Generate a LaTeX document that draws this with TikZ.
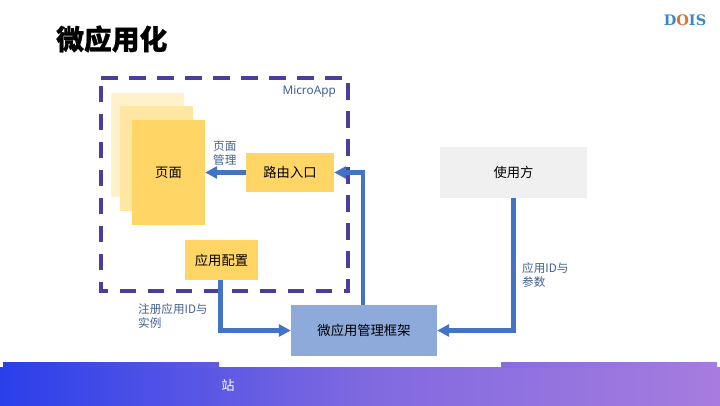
\documentclass[tikz,border=0pt]{standalone}
\usepackage{fontspec}
\setmainfont[BoldFeatures={FakeBold=0.6}]{Noto Sans CJK SC}
\newfontfamily\latinf{Noto Sans}
\newfontfamily\logof{DejaVu Serif}
\usetikzlibrary{arrows.meta}
\definecolor{fblue}{HTML}{2A3FEA}
\definecolor{fmid}{HTML}{7F69E0}
\definecolor{fpurple}{HTML}{A67CDF}
\definecolor{gold}{HTML}{FFD666}
\definecolor{arrowblue}{HTML}{4472C4}
\definecolor{framep}{HTML}{4F3D9E}
\definecolor{mgr}{HTML}{8EAADB}
\definecolor{labelc}{HTML}{44618F}
\definecolor{logoblue}{HTML}{3E86C6}
\definecolor{logoor}{HTML}{D9703A}
\tikzset{
  box/.style={draw=none,minimum width=#1,inner sep=0pt,font=\fontsize{13.3pt}{15pt}\selectfont,text=black},
  conn/.style={draw=arrowblue,line width=4.4pt,-{Triangle[length=12pt,width=12pt]},line join=miter},
  lab/.style={font=\fontsize{11.6pt}{14pt}\selectfont,text=labelc,align=left,inner sep=0pt},
}
\begin{document}
\begin{tikzpicture}[x=1pt,y=-1pt]
\useasboundingbox (0,0) rectangle (720,405);
\fill[white] (0,0) rectangle (720,405);
% footer
\fill[left color=fblue,right color=fmid] (0,367) rectangle (360,405);
\fill[left color=fmid,right color=fpurple] (360,367) rectangle (720,405);
\fill[left color=fblue,right color=fmid!65!fblue] (3,362) rectangle (219,367);
\fill[left color=fmid!80!fpurple,right color=fpurple] (501,362) rectangle (717,367);
\node[text=white,font=\fontsize{13.3pt}{15pt}\selectfont,inner sep=0pt] (zhan) at (228,385) {站};
% title
\node[anchor=west,inner sep=0pt,font=\fontsize{27.8pt}{30pt}\selectfont\bfseries] (title) at (56,39) {微应用化};
% logo
\node[anchor=center,inner sep=0pt,font=\logof\fontsize{14.5pt}{16pt}\selectfont\bfseries,text=logoblue] (logo) at (685,20.5) {D\textcolor{logoor}{O}IS};
% frame
\draw[framep,line width=4pt,dash pattern=on 16.5pt off 11.5pt] (101,78) -- (348,78) -- (348,291) -- (101,291) -- cycle;
\node[lab,anchor=east,font=\latinf\fontsize{11.8pt}{14pt}\selectfont] (ma) at (336,92) {MicroApp};
% pages
\fill[gold!35!white] (111,93) rectangle (184,197);
\fill[gold!60!white] (120,106) rectangle (193,211);
\node[box=73pt,minimum height=105pt,fill=gold] (page) at (168.5,172.5) {页面};
\node[box=88pt,minimum height=39pt,fill=gold] (route) at (290,172.5) {路由入口};
\node[box=73pt,minimum height=40pt,fill=gold] (cfg) at (221.5,260) {应用配置};
\node[box=147pt,minimum height=51pt,fill=black!6] (user) at (513.5,172.5) {使用方};
\node[box=146pt,minimum height=51pt,fill=mgr] (mgrn) at (364,330.5) {微应用管理框架};
% labels
\node[lab,anchor=north west] (l1) at (213,141) {页面\\管理};
\node[lab,anchor=north west] (l2) at (138,303) {注册应用ID与\\实例};
\node[lab,anchor=north west] (l3) at (522,262) {应用ID与\\参数};
% connectors
\draw[conn] (route.west) -- (page.east);
\draw[conn] (mgrn.north -| 363,305) |- (route.east);
\draw[conn] (user.south) |- (mgrn.east);
\draw[conn] (cfg.south -| 220.5,280) |- (mgrn.west);
\end{tikzpicture}
\end{document}
